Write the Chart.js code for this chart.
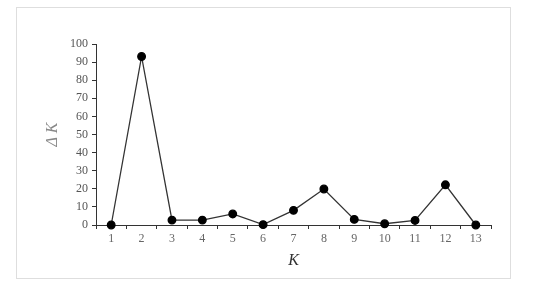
<!DOCTYPE html>
<html>
<head>
<meta charset="utf-8">
<script src="https://cdn.jsdelivr.net/npm/chart.js@4"></script>
<style>
  body { margin: 0; background: #fff; }
  #frame { position: absolute; left: 16px; top: 7px; width: 493px; height: 270px; border: 1px solid #dedede; }
  #wrap { position: absolute; left: 0; top: 0; width: 550px; height: 287px; }
</style>
</head>
<body>
<div id="frame"></div>
<div id="wrap"><canvas id="chart"></canvas></div>
<script>
// DATA
let kLabels = ["1", "2", "3", "4", "5", "6", "7", "8", "9", "10", "11", "12", "13"];
let deltaK = [0, 93.1, 2.7, 2.7, 6.1, 0.2, 8.1, 19.9, 3.1, 0.7, 2.5, 22.2, 0];
let yTicks = [0, 10, 20, 30, 40, 50, 60, 70, 80, 90, 100];

let tickFont = { family: "Liberation Serif", size: 12 };

// CHART
let ctx = document.getElementById("chart");

new Chart(ctx, {
  type: "line",
  data: {
    labels: kLabels,
    datasets: [{
      data: deltaK,
      borderColor: "#333",
      borderWidth: 1.3,
      pointBackgroundColor: "#000",
      pointBorderColor: "#000",
      pointRadius: 3.8,
      tension: 0,
      clip: false
    }]
  },
  options: {
    responsive: true,
    maintainAspectRatio: false,
    animation: false,
    layout: { padding: { left: 39, top: 44, right: 59, bottom: 17 } },
    plugins: { legend: { display: false }, tooltip: { enabled: false } },
    scales: {
      x: {
        offset: true,
        grid: { offset: true, drawOnChartArea: false, color: "#333", tickColor: "#333", tickLength: 4 },
        border: { display: true, color: "#333", width: 1 },
        ticks: { color: "#666", font: tickFont, padding: 3, maxRotation: 0 },
        title: { display: true, text: "K", color: "#333", font: { family: "Liberation Serif", size: 16, style: "italic" }, padding: { top: 6, bottom: 0 } },
        afterFit: function (scale) { scale.height = 45; }
      },
      y: {
        min: 0,
        max: 100,
        afterBuildTicks: function (scale) { scale.ticks = yTicks.map(v => ({ value: v })); },
        grid: { drawOnChartArea: false, color: "#333", tickColor: "#333", tickLength: 4 },
        border: { display: true, color: "#333", width: 1 },
        ticks: { color: "#555", font: tickFont, padding: 4 },
        title: { display: true, text: "Δ K", color: "#888", font: { family: "Liberation Serif", size: 16, style: "italic" }, padding: { top: 4, bottom: 0 } },
        afterFit: function (scale) { scale.width = 57; }
      }
    }
  }
});
</script>
</body>
</html>
